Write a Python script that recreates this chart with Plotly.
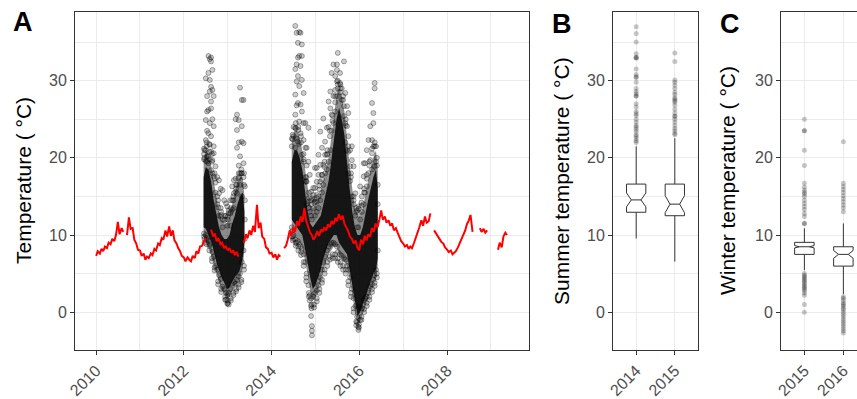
import plotly.graph_objects as go
from datetime import datetime

FONT = "Liberation Sans"

# ---------------- Data ----------------
# Offshore reference temperature (red line): values on the 1st and 15th of each month
sst_2010 = [7.3, 7.9, 7.6, 8.2, 7.9, 8.5, 8.3, 9.0, 8.8, 9.5, 9.2, 10.0, 11.7, 10.1, 10.9, 10.4, None, 10.0, 12.3, 10.8, 10.9, 9.4, 8.9, 8.1]
sst_2011 = [8.0, 7.3, 7.6, 6.8, 7.2, 7.0, 7.6, 7.4, 8.2, 8.0, 8.9, 8.7, 9.6, 9.4, 10.6, 9.8, 11.1, 9.9, 10.6, 9.3, 8.9, 8.3, 7.9, 7.3]
sst_2012 = [7.1, 6.6, 7.1, 6.8, 6.6, 7.3, 7.0, 7.9, 7.6, 8.5, 8.6, 9.1, 9.6, None, None, 10.7, 9.8, 10.2, 9.2, 9.6, 8.8, 9.0, 8.3, 8.6]
sst_2013 = [8.0, 8.3, 7.7, 8.0, 7.4, 7.8, 7.2, None, None, 9.0, 10.1, 9.6, 10.6, 10.0, 11.2, 10.4, 13.9, 10.9, 11.6, 9.8, 9.5, 8.4, 8.2, 7.6]
sst_2014 = [7.7, 7.1, 7.5, 6.8, 7.4, 7.2, None, 8.3, 8.6, 9.4, 10.6, 9.9, 11.0, 10.4, 11.8, 11.2, 12.4, 11.7, 13.5, 11.9, 11.0, 10.4, 10.0, 9.4]
sst_2015 = [9.8, 10.5, 9.9, 10.7, 10.4, 11.0, 10.6, 11.4, 11.0, 11.8, 11.4, 12.2, 11.8, 12.7, 12.0, 12.5, 11.4, 11.0, 10.5, 9.8, 9.5, 8.9, 9.3, 8.4]
sst_2016 = [8.0, 9.4, 8.8, 9.9, 9.3, 10.1, 9.8, 10.9, 10.4, 11.5, 11.0, 11.9, 13.2, 12.0, 12.4, 11.6, 11.9, 11.2, 11.5, 10.6, 10.9, 10.3, 9.6, 9.2]
sst_2017 = [8.9, 8.5, 8.7, 8.2, 8.5, 8.3, 9.0, 9.6, 10.2, 11.0, 11.9, 11.2, 12.4, 11.6, 11.8, 12.8, None, 10.6, 10.2, 9.9, 9.4, 9.1, 8.9, 8.4]
sst_2018 = [8.1, 7.8, 8.0, 7.5, 7.7, 7.9, 8.4, 8.9, 9.4, 9.9, 10.6, 11.4, 11.9, 12.6, 10.4, None, None, None, 10.9, 10.4, 10.8, 10.3, 10.6, None]
sst_2019 = [None, None, None, None, 8.1, 9.0, 8.4, 9.8, 10.3, 10.0]
sst_years = [2010, 2011, 2012, 2013, 2014, 2015, 2016, 2017, 2018, 2019]
sst_series = [sst_2010, sst_2011, sst_2012, sst_2013, sst_2014, sst_2015, sst_2016, sst_2017, sst_2018, sst_2019]

# Logger observations: dense core envelope (decimal year, low, high) and lighter outer envelope
core1_year = [2012.45, 2012.50, 2012.56, 2012.62, 2012.68, 2012.74, 2012.80, 2012.86, 2012.92, 2012.98, 2013.04, 2013.10, 2013.16, 2013.22, 2013.28, 2013.34, 2013.38]
core1_high = [17.5, 18.8, 18.5, 17.0, 14.5, 12.5, 11.0, 10.0, 9.5, 9.5, 10.0, 11.5, 12.5, 14.0, 15.0, 15.5, 13.0]
core1_low = [11.0, 10.8, 10.0, 9.2, 8.0, 6.5, 5.5, 4.5, 3.8, 3.0, 3.2, 4.0, 4.5, 5.0, 5.5, 7.0, 9.0]
halo1_high = [19.5, 21.0, 20.5, 19.0, 17.0, 15.0, 13.0, 12.0, 11.5, 11.5, 12.5, 14.0, 15.5, 17.0, 17.5, 17.5, 15.0]
halo1_low = [9.8, 9.2, 8.5, 7.5, 6.2, 5.0, 4.0, 3.0, 2.5, 1.8, 2.0, 2.8, 3.3, 3.8, 4.5, 5.8, 8.0]

core2_year = [2014.46, 2014.52, 2014.58, 2014.64, 2014.70, 2014.76, 2014.82, 2014.88, 2014.94, 2015.00, 2015.06, 2015.12, 2015.18, 2015.24, 2015.30, 2015.36, 2015.42, 2015.48, 2015.54, 2015.60, 2015.66, 2015.72, 2015.78, 2015.84, 2015.90, 2015.96, 2016.02, 2016.08, 2016.14, 2016.20, 2016.26, 2016.32, 2016.38, 2016.42]
core2_high = [19.5, 21.0, 21.0, 20.0, 18.5, 15.5, 13.0, 11.5, 11.0, 11.5, 12.0, 12.5, 14.0, 15.5, 17.0, 19.5, 22.0, 25.0, 26.5, 25.0, 23.0, 19.0, 16.0, 13.0, 11.0, 10.0, 10.0, 11.0, 13.0, 14.5, 16.0, 17.5, 18.5, 16.0]
core2_low = [12.0, 11.5, 11.0, 10.5, 10.0, 8.5, 6.5, 4.5, 3.0, 3.5, 4.5, 5.5, 7.0, 8.0, 9.0, 9.5, 10.0, 10.0, 9.0, 8.5, 8.0, 7.5, 6.0, 4.0, 1.5, -0.5, 0.0, 1.0, 2.0, 3.0, 4.0, 5.0, 5.5, 7.0]
halo2_high = [22.0, 23.5, 23.5, 22.5, 21.0, 18.5, 16.0, 14.0, 13.5, 14.0, 14.5, 15.5, 17.0, 18.5, 20.0, 22.5, 25.0, 28.0, 29.0, 28.0, 26.0, 22.0, 19.0, 16.0, 13.5, 12.5, 12.5, 13.5, 15.5, 17.0, 18.5, 20.0, 21.0, 18.5]
halo2_low = [10.5, 10.0, 9.5, 9.0, 8.5, 7.0, 5.0, 2.8, 1.5, 2.0, 3.0, 4.0, 5.5, 6.5, 7.5, 8.0, 8.5, 8.5, 7.5, 7.0, 6.5, 6.0, 4.5, 2.5, 0.0, -1.5, -1.2, -0.3, 0.7, 1.8, 2.8, 3.8, 4.3, 6.0]

# Logger observations: scattered individual readings (decimal year -> temperatures)
obs_year = [2012.46, 2012.50, 2012.53, 2012.56, 2012.59, 2012.62, 2012.65, 2012.68, 2012.72, 2012.76, 2012.80, 2012.84, 2012.88, 2012.92, 2012.96, 2012.99, 2013.02, 2013.06, 2013.10, 2013.14, 2013.18, 2013.21, 2013.25, 2013.28, 2013.32, 2013.36, 2013.39,
            2014.46, 2014.50, 2014.54, 2014.57, 2014.60, 2014.63, 2014.66, 2014.69, 2014.73, 2014.77, 2014.80, 2014.84, 2014.87, 2014.90, 2014.92, 2014.95, 2014.99, 2015.03, 2015.07, 2015.11, 2015.15, 2015.18, 2015.22, 2015.26, 2015.30, 2015.34, 2015.37, 2015.41, 2015.45, 2015.49, 2015.51, 2015.56, 2015.60, 2015.65, 2015.68, 2015.72, 2015.75, 2015.79, 2015.83, 2015.87, 2015.91, 2015.95, 2015.98, 2016.02, 2016.06, 2016.10, 2016.13, 2016.17, 2016.21, 2016.25, 2016.29, 2016.32, 2016.35, 2016.38, 2016.42]
obs_temp = [
    [20.5, 19.8, 10.2, 9.8, 21.2], [22.3, 21.0, 30.3, 19.6, 10.0, 24.9], [28.0, 26.0, 23.5, 20.2, 9.6, 19.5],
    [33.2, 31.0, 26.2, 23.2, 20.2, 19.3, 9.3], [32.8, 30.1, 28.6, 24.5, 21.7, 19.8, 8.8],
    [33.0, 32.5, 29.2, 27.3, 26.4, 22.8, 20.8, 18.4], [31.4, 28.8, 25.0, 19.7, 18.0, 7.8],
    [28.0, 24.1, 21.5, 20.6, 17.6, 7.2], [18.9, 16.8, 15.5, 6.0], [17.5, 15.0, 14.0, 5.5],
    [17.1, 15.4, 12.5, 4.8], [16.0, 12.4, 13.5, 4.3], [15.8, 12.0, 11.0, 3.3], [14.5, 11.9, 3.0],
    [14.1, 12.5, 2.5, 1.6], [13.7, 11.2, 1.1, 2.2], [13.2, 12.8, 1.0, 2.5], [14.5, 12.8, 11.2, 3.0],
    [16.3, 14.5, 13.3, 3.7], [17.1, 15.4, 13.5, 3.9], [17.3, 15.6, 3.7, 25.0],
    [25.6, 23.6, 21.3, 16.5, 15.4, 4.2], [24.9, 22.0, 17.3, 4.6, 19.0], [29.1, 20.2, 18.0, 16.5, 5.0],
    [27.5, 24.1, 22.1, 18.0, 15.0, 6.5], [27.5, 21.9, 19.3, 17.5, 8.0], [16.3, 14.5, 12.0, 9.5],
    [21.5, 22.5, 10.5, 11.0, 9.8], [24.0, 22.8, 10.0, 9.5], [37.1, 28.2, 25.6, 23.9, 21.3, 9.4, 31.5],
    [36.2, 32.1, 29.9, 26.8, 22.5, 9.0], [34.9, 30.6, 27.1, 22.1, 9.2, 33.0], [33.2, 29.3, 24.7, 21.8, 8.8, 36.3],
    [36.2, 31.9, 26.9, 23.2, 8.5], [34.7, 33.2, 30.1, 26.0, 20.4, 8.2], [28.4, 24.5, 22.3, 19.5, 7.5],
    [24.5, 21.3, 16.9, 17.5, 6.5], [21.3, 19.0, 16.9, 14.0, 5.0], [23.9, 19.5, 14.3, 13.5, 3.5],
    [17.8, 13.0, 2.2, 1.5], [15.6, 12.5, 0.8, -0.5, 1.8], [14.8, -1.8, -2.4, -3.0, 12.0],
    [15.2, 16.1, 13.5, 2.0], [16.1, 18.7, 14.3, 2.5, 12.5], [18.7, 16.9, 14.3, 13.0, 2.8],
    [20.4, 17.8, 15.0, 13.5, 3.5], [23.4, 19.1, 16.9, 14.5, 4.5], [21.3, 17.8, 15.5, 5.5],
    [25.1, 19.1, 16.5, 6.5], [22.1, 20.4, 18.0, 7.2], [23.9, 20.4, 18.5, 8.0], [27.3, 24.0, 19.5, 8.5],
    [28.6, 26.4, 21.0, 8.8], [31.0, 25.6, 23.5, 9.0], [32.1, 28.0, 24.5, 9.0], [30.6, 28.8, 26.0, 8.8],
    [32.1, 31.4, 29.9, 28.0, 8.5], [33.6, 29.0, 7.8], [31.0, 29.7, 28.5, 7.5], [29.0, 27.5, 7.3],
    [32.5, 26.7, 25.4, 7.0], [28.4, 24.5, 22.0, 6.8], [26.7, 24.1, 21.0, 6.0], [25.8, 22.8, 18.0, 5.5],
    [21.0, 18.9, 17.0, 4.5], [21.5, 19.7, 15.0, 3.0], [18.9, 14.0, 1.8], [15.4, 12.5, 0.8],
    [13.2, 11.0, -1.3, -0.6], [13.7, -2.3, -1.9, 11.0], [16.3, 12.0, -1.0, 0.7], [15.0, 13.0, 0.5],
    [17.6, 19.3, 14.0, 1.5], [19.3, 15.5, 1.8], [21.0, 16.3, 2.0], [22.3, 18.0, 2.5], [24.1, 19.7, 3.3],
    [22.3, 27.1, 18.5, 3.6], [25.8, 24.5, 21.5, 4.2], [29.7, 29.0, 18.9, 4.8], [21.5, 19.5, 5.5], [16.5, 14.0, 8.0],
]

# Readings lying along the fuzzy edge of the dense cloud
edge_year = [2012.47, 2012.52, 2012.58, 2012.64, 2012.70, 2012.78, 2012.85, 2012.94, 2013.00, 2013.07, 2013.13, 2013.19, 2013.25, 2013.31, 2013.37,
             2014.48, 2014.55, 2014.61, 2014.67, 2014.73, 2014.79, 2014.85, 2014.91, 2014.97, 2015.03, 2015.09, 2015.15, 2015.21, 2015.27, 2015.33, 2015.39, 2015.45, 2015.51, 2015.57, 2015.63, 2015.69, 2015.75, 2015.81, 2015.87, 2015.93, 2015.99, 2016.05, 2016.11, 2016.17, 2016.23, 2016.29, 2016.35, 2016.40]
edge_temp = [
    [21.0, 20.0, 9.5, 9.0], [22.0, 21.5, 8.8, 9.4], [21.8, 20.8, 8.0, 8.6], [20.5, 19.5, 7.0, 6.6],
    [18.0, 17.3, 5.8, 5.4], [14.5, 13.6, 4.0, 3.6], [13.0, 12.6, 3.0, 2.6], [12.5, 12.0, 2.0, 1.6],
    [12.4, 12.0, 1.5, 1.2], [13.5, 13.0, 1.8, 1.5], [15.0, 14.5, 2.5, 2.2], [16.5, 16.0, 3.0, 2.7],
    [18.0, 17.5, 3.6, 3.2], [18.5, 18.0, 4.2, 3.9], [18.0, 16.5, 6.0, 5.5],
    [23.0, 22.4, 9.8, 9.3], [24.5, 23.8, 9.0, 8.6], [24.0, 23.6, 8.5, 8.0], [22.8, 22.0, 7.8, 7.4],
    [20.5, 19.8, 6.5, 6.0], [17.5, 17.0, 4.5, 4.0], [15.5, 14.8, 2.5, 2.0], [14.5, 14.0, 1.0, 0.5],
    [14.6, 14.2, 1.0, 0.6], [15.2, 14.8, 1.8, 1.4], [16.4, 15.9, 3.0, 2.5], [17.8, 17.2, 4.2, 3.8],
    [19.5, 18.8, 5.5, 5.0], [21.0, 20.5, 6.5, 6.0], [23.5, 22.8, 7.2, 6.8], [25.5, 24.8, 7.5, 7.0],
    [28.0, 27.2, 7.5, 7.0], [30.0, 29.5, 7.0, 6.5], [29.5, 29.0, 6.5, 6.0], [28.0, 27.5, 6.0, 5.5],
    [25.0, 24.2, 5.5, 5.0], [21.5, 20.8, 4.0, 3.5], [18.0, 17.5, 2.5, 2.0], [15.0, 14.5, 0.5, 0.0],
    [13.5, 13.0, -1.2, -1.7], [13.4, 12.9, -2.0, -1.6], [14.2, 13.8, -1.0, -0.6], [16.0, 15.5, 0.0, 0.4],
    [17.8, 17.3, 1.2, 0.8], [19.5, 19.0, 2.0, 1.6], [21.2, 20.6, 3.0, 2.6], [22.0, 21.5, 3.8, 3.4],
    [20.0, 19.0, 5.0, 4.5],
]

# Box plot summaries
summer_cats = ["2014", "2015"]
summer_q1 = [12.95, 12.5]
summer_med = [14.55, 14.0]
summer_q3 = [16.6, 16.6]
summer_lo = [9.55, 6.55]
summer_hi = [21.5, 22.55]
summer_notch = [0.9, 1.1]
summer_out_2014 = [37.0, 36.1, 35.0, 33.5, 33.0, 33.0, 32.9, 31.5, 30.8, 30.5, 30.4, 29.8, 29.0, 28.6, 28.3, 28.0, 28.0, 27.0, 26.6, 26.0, 25.7, 25.5, 25.0, 24.6, 24.2, 24.0, 23.7, 23.4, 23.0, 22.8, 22.5, 22.2, 22.0]
summer_out_2015 = [33.6, 32.5, 30.1, 29.8, 29.4, 29.0, 28.5, 28.2, 27.8, 27.6, 27.4, 27.2, 26.8, 26.3, 25.8, 25.4, 25.4, 25.0, 24.6, 24.2, 23.8, 23.5, 23.2, 23.0]

winter_cats = ["2015", "2016"]
winter_q1 = [7.49, 5.97]
winter_med = [8.48, 7.49]
winter_q3 = [9.05, 8.48]
winter_lo = [5.45, 2.34]
winter_hi = [10.87, 11.5]
winter_notch = [0.15, 0.5]
winter_out_2015 = [25.0, 23.5, 23.5, 21.0, 19.0, 16.7, 16.2, 15.8, 15.5, 15.3, 15.0, 14.5, 14.1, 13.7, 13.3, 12.8, 12.4, 11.5, 11.5, 5.0, 4.8, 4.6, 4.4, 4.2, 4.0, 3.8, 3.6, 3.4, 3.2, 3.0, 2.8, 2.5, 2.2, 1.0, 0.0]
winter_out_2016 = [22.1, 16.7, 16.3, 15.9, 15.5, 15.1, 14.7, 14.3, 13.9, 13.5, 13.0, 2.0, 1.8, 1.5, 1.2, 1.0, 0.8, 0.5, 0.3, 0.0, -0.3, -0.6, -0.9, -1.2, -1.5, -1.8, -2.1, -2.4, -2.7]


# ---------------- Helpers ----------------
def dec_to_date(y):
    yr = int(y)
    start = datetime(yr, 1, 1)
    end = datetime(yr + 1, 1, 1)
    return start + (end - start) * (y - yr)


def half_month_dates(year, n):
    return [f"{year}-{m:02d}-{d:02d}" for m in range(1, 13) for d in (1, 15)][:n]


fig = go.Figure()


def add_band(yrs, lo, hi, color):
    d = [dec_to_date(v) for v in yrs]
    fig.add_trace(go.Scatter(
        x=d + d[::-1], y=hi + lo[::-1], fill="toself", mode="lines",
        line=dict(width=0), fillcolor=color, hoverinfo="skip",
        xaxis="x", yaxis="y", showlegend=False))


# outer (lighter) and inner (dense) clouds of readings
add_band(core1_year, halo1_low, halo1_high, "rgba(0,0,0,0.45)")
add_band(core2_year, halo2_low, halo2_high, "rgba(0,0,0,0.45)")
add_band(core1_year, core1_low, core1_high, "rgba(0,0,0,0.85)")
add_band(core2_year, core2_low, core2_high, "rgba(0,0,0,0.85)")

# scattered readings
px, py = [], []
for yrs, temps in [(obs_year, obs_temp), (edge_year, edge_temp)]:
    for y, ts in zip(yrs, temps):
        for t in ts:
            px.append(dec_to_date(y))
            py.append(t)
fig.add_trace(go.Scatter(
    x=px, y=py, mode="markers",
    marker=dict(size=5, color="rgba(0,0,0,0.2)", line=dict(color="rgba(0,0,0,0.4)", width=0.8)),
    xaxis="x", yaxis="y", showlegend=False))

# red line
lx, ly = [], []
for yr, vals in zip(sst_years, sst_series):
    lx += half_month_dates(yr, len(vals))
    ly += vals
fig.add_trace(go.Scatter(x=lx, y=ly, mode="lines", connectgaps=False,
                         line=dict(color="#FF0000", width=2), xaxis="x", yaxis="y", showlegend=False))


# box plots
def add_boxes(cats, q1, med, q3, lo, hi, notch, outs, xa, ya):
    for i, c in enumerate(cats):
        fig.add_trace(go.Scatter(
            x=[c] * len(outs[i]), y=outs[i], mode="markers",
            marker=dict(size=5, color="rgba(0,0,0,0.22)", line=dict(width=0)),
            xaxis=xa, yaxis=ya, showlegend=False))
        fig.add_trace(go.Box(
            x=[c], q1=[q1[i]], median=[med[i]], q3=[q3[i]],
            lowerfence=[lo[i]], upperfence=[hi[i]], notchspan=[notch[i]],
            notched=True, notchwidth=0.25, boxpoints=False, width=0.5, whiskerwidth=0,
            fillcolor="white", line=dict(color="#333333", width=1),
            xaxis=xa, yaxis=ya, showlegend=False))


add_boxes(summer_cats, summer_q1, summer_med, summer_q3, summer_lo, summer_hi, summer_notch,
          [summer_out_2014, summer_out_2015], "x2", "y2")
add_boxes(winter_cats, winter_q1, winter_med, winter_q3, winter_lo, winter_hi, winter_notch,
          [winter_out_2015, winter_out_2016], "x3", "y3")

# ---------------- Layout ----------------
W, H = 857, 399
ydom = [1 - 350 / H, 1 - 12 / H]
tickfont = dict(family=FONT, size=16, color="#4D4D4D")
common = dict(showline=True, linecolor="#333333", linewidth=1, ticks="outside", ticklen=4,
              tickcolor="#333333", tickwidth=1, tickfont=tickfont, showgrid=True,
              gridcolor="#EBEBEB", gridwidth=1.1, zeroline=False)
yax = dict(common, range=[-4.9, 38.9], tick0=0, dtick=10,
           minor=dict(dtick=5, tick0=0, showgrid=True, gridcolor="#EBEBEB", gridwidth=0.7, ticks=""))

fig.update_layout(
    width=W, height=H, margin=dict(l=0, r=0, t=0, b=0),
    paper_bgcolor="white", plot_bgcolor="white", template="none",
    font=dict(family=FONT),
    showlegend=False,
    xaxis=dict(common, domain=[75 / W, 529 / W], anchor="y", mirror=True, type="date",
               range=["2009-07-09", "2019-11-14"], tick0="2010-01-01", dtick="M24",
               tickformat="%Y", tickangle=-45,
               minor=dict(dtick="M12", tick0="2011-01-01", showgrid=True, gridcolor="#EBEBEB",
                          gridwidth=0.7, ticks="")),
    yaxis=dict(yax, domain=ydom, anchor="x", mirror=True),
    xaxis2=dict(common, domain=[613 / W, 698 / W], anchor="y2", mirror=True, type="category",
                categoryorder="array", categoryarray=summer_cats, range=[-0.6, 1.6], tickangle=-45),
    yaxis2=dict(yax, domain=ydom, anchor="x2", mirror=True),
    xaxis3=dict(common, domain=[781 / W, 1.0], anchor="y3", mirror=True, type="category",
                categoryorder="array", categoryarray=winter_cats, range=[-0.6, 1.35], tickangle=-45),
    yaxis3=dict(yax, domain=ydom, anchor="x3", mirror=False),
)

ann = [
    dict(text="<b>A</b>", x=23 / W, y=1 - 22 / H, size=27, angle=0),
    dict(text="<b>B</b>", x=562 / W, y=1 - 24 / H, size=27, angle=0),
    dict(text="<b>C</b>", x=730 / W, y=1 - 24 / H, size=27, angle=0),
    dict(text="Temperature ( °C)", x=24 / W, y=1 - 181 / H, size=21, angle=-90),
    dict(text="Summer temperature ( °C)", x=562 / W, y=1 - 181 / H, size=21, angle=-90),
    dict(text="Winter temperature ( °C)", x=728 / W, y=1 - 181 / H, size=21, angle=-90),
]
for a in ann:
    fig.add_annotation(text=a["text"], x=a["x"], y=a["y"], xref="paper", yref="paper",
                       xanchor="center", yanchor="middle", showarrow=False, textangle=a["angle"],
                       font=dict(family=FONT, size=a["size"], color="black"))

fig.write_html("out.html")
